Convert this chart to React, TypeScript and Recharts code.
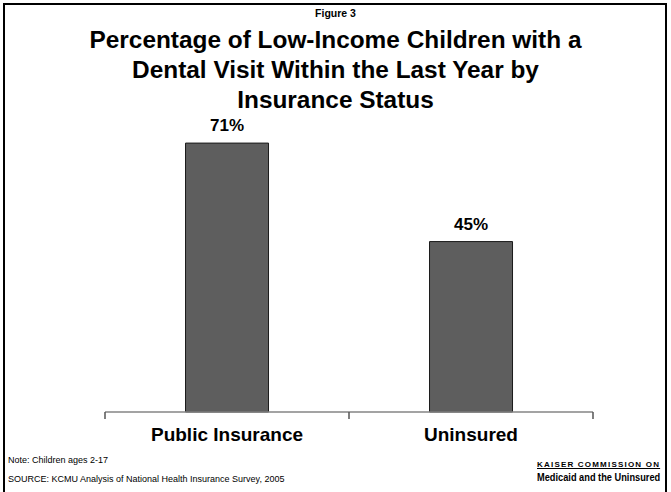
import { BarChart, Bar, XAxis, YAxis, LabelList } from 'recharts';

const categories = ['Public Insurance', 'Uninsured'];
const visitShares = [71, 45];

const data = categories.map((name, i) => ({ name, value: visitShares[i] }));

const sans = '"Liberation Sans", Arial, sans-serif';

// category label plus short tick marks on the category boundaries (not centres)
function CategoryTick(props: any) {
  const { x, y, payload, index, visibleTicksCount, width } = props;
  const half = width / visibleTicksCount / 2;
  const isLast = index === visibleTicksCount - 1;
  return (
    <g>
      <line x1={x - half} y1={y} x2={x - half} y2={y + 7} stroke="#555" strokeWidth={1.5} />
      {isLast && (
        <line x1={x + half} y1={y} x2={x + half} y2={y + 7} stroke="#555" strokeWidth={1.5} />
      )}
      <text
        x={x}
        y={y + 29}
        textAnchor="middle"
        fill="#000"
        fontSize={19}
        fontWeight="bold"
        fontFamily={sans}
      >
        {payload.value}
      </text>
    </g>
  );
}

function App() {
  return (
    <div
      style={{
        position: 'absolute',
        left: 0,
        top: 0,
        width: 671,
        height: 492,
        overflow: 'hidden',
        background: '#fff',
        fontFamily: sans,
      }}
    >
      {/* slide frame, open at the bottom */}
      <div
        style={{
          position: 'absolute',
          left: 3,
          top: 3,
          width: 664,
          height: 520,
          border: '2px solid #000',
          boxSizing: 'border-box',
        }}
      />

      <div
        style={{
          position: 'absolute',
          top: 7,
          width: '100%',
          textAlign: 'center',
          fontWeight: 'bold',
          fontSize: 10.5,
        }}
      >
        Figure 3
      </div>
      <div
        style={{
          position: 'absolute',
          top: 25,
          width: '100%',
          textAlign: 'center',
          fontWeight: 'bold',
          fontSize: 24.4,
          lineHeight: '30px',
        }}
      >
        Percentage of Low-Income Children with a
        <br />
        Dental Visit Within the Last Year by
        <br />
        Insurance Status
      </div>

      <div style={{ position: 'absolute', left: 0, top: 0 }}>
        <BarChart
          width={671}
          height={492}
          data={data}
          margin={{ top: 109, right: 78, bottom: 50, left: 105 }}
          barCategoryGap="33%"
        >
          <YAxis hide domain={[0, 80]} />
          <XAxis
            dataKey="name"
            height={30}
            axisLine={{ stroke: '#858585', strokeWidth: 1.5 }}
            tickLine={false}
            tickSize={0}
            tickMargin={0}
            interval={0}
            tick={<CategoryTick />}
          />
          <Bar
            dataKey="value"
            fill="#5e5e5e"
            stroke="#1a1a1a"
            strokeWidth={1}
            isAnimationActive={false}
          >
            <LabelList
              dataKey="value"
              position="top"
              offset={12}
              formatter={(v: number) => `${v}%`}
              style={{ fill: '#000', fontSize: 17, fontWeight: 'bold', fontFamily: sans }}
            />
          </Bar>
        </BarChart>
      </div>

      <div style={{ position: 'absolute', left: 8, top: 455, fontSize: 9 }}>
        Note: Children ages 2-17
      </div>
      <div style={{ position: 'absolute', left: 8, top: 474, fontSize: 9 }}>
        SOURCE: KCMU Analysis of National Health Insurance Survey, 2005
      </div>

      <div
        style={{
          position: 'absolute',
          left: 537,
          top: 460,
          fontSize: 8,
          fontWeight: 'bold',
          letterSpacing: 1.2,
          textDecoration: 'underline',
          whiteSpace: 'nowrap',
        }}
      >
        KAISER COMMISSION ON
      </div>
      <div
        style={{
          position: 'absolute',
          left: 537,
          top: 471,
          fontSize: 11,
          fontWeight: 'bold',
          whiteSpace: 'nowrap',
          transform: 'scaleX(0.84)',
          transformOrigin: 'left top',
        }}
      >
        Medicaid and the Uninsured
      </div>
    </div>
  );
}

export default App;
